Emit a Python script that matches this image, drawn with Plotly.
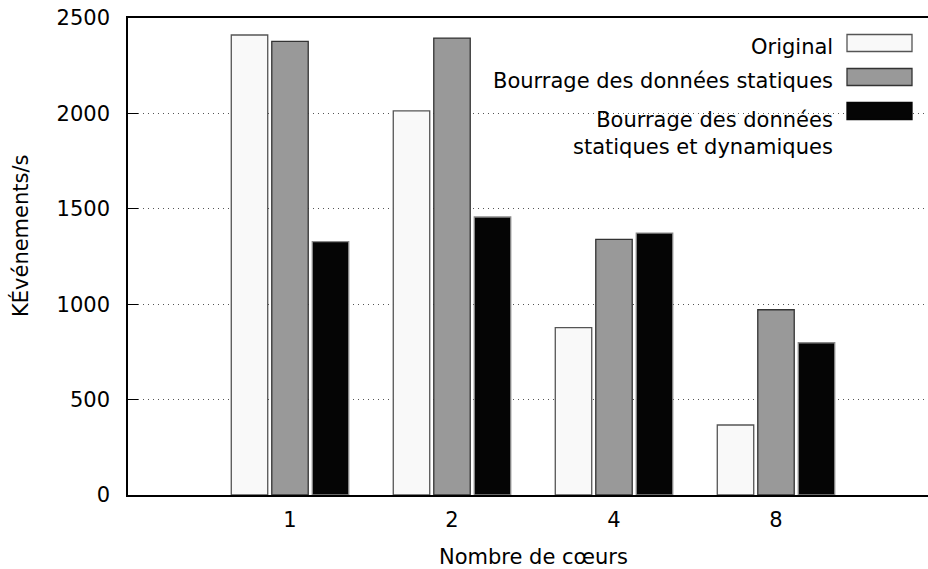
import plotly.graph_objects as go

# Data
positions = [1, 2, 3, 4]
core_labels = ["1", "2", "4", "8"]
original = [2411, 2013, 877, 367]
statique = [2378, 2395, 1340, 971]
dynamique = [1328, 1457, 1373, 798]
series_names = ["Original", "Bourrage des données statiques",
                "Bourrage des données<br>statiques et dynamiques"]
y_ticks = [0, 500, 1000, 1500, 2000, 2500]

W, H = 928, 569
L, R, T, B = 128, 928, 18, 495
FONT = "DejaVu Sans"
FS = 21


def xp(px):
    return (px - L) / (R - L)


def yp(py):
    return (B - py) / (B - T)


fills = ["#f9f9f9", "#999999", "#050505"]
edges = ["#555555", "#333333", "#8a8a8a"]
values = [original, statique, dynamique]

fig = go.Figure()
for name, vals, fc, ec in zip(series_names, values, fills, edges):
    fig.add_trace(go.Bar(
        x=positions, y=vals, name=name,
        marker=dict(color=fc, line=dict(color=ec, width=1.3)),
        showlegend=False,
    ))

# Manual gnuplot-style legend (text left of swatch)
rows_y = [43, 77, 111]
text_y = [47, 81, 133]
shapes = []
annotations = []
for i, (name, fc, ec) in enumerate(zip(series_names, fills, edges)):
    shapes.append(dict(type="rect", xref="paper", yref="paper",
                       x0=xp(847), x1=xp(912), y0=yp(rows_y[i] - 8.5), y1=yp(rows_y[i] + 8.5),
                       fillcolor=fc, line=dict(color=ec if i != 2 else "#050505", width=1.3),
                       layer="above"))
    annotations.append(dict(xref="paper", yref="paper", x=xp(835), y=yp(text_y[i]),
                            xanchor="right", yanchor="middle", align="right",
                            text=name, showarrow=False,
                            font=dict(family=FONT, size=FS, color="black")))

# Axis titles
annotations.append(dict(xref="paper", yref="paper", x=xp(533), y=yp(557),
                        xanchor="center", yanchor="middle", text="Nombre de cœurs",
                        showarrow=False, font=dict(family=FONT, size=FS, color="black")))
annotations.append(dict(xref="paper", yref="paper", x=xp(20), y=yp(236),
                        xanchor="center", yanchor="middle", text="KÉvénements/s", textangle=-90,
                        showarrow=False, font=dict(family=FONT, size=FS, color="black")))

fig.update_layout(
    width=W, height=H,
    margin=dict(l=L, r=W - R, t=T, b=H - B, pad=0),
    paper_bgcolor="white", plot_bgcolor="white",
    barmode="group", bargap=0.25, bargroupgap=0.1,
    font=dict(family=FONT, size=FS, color="black"),
    shapes=shapes, annotations=annotations,
    xaxis=dict(range=[0, (R - L) / 162.0], tickvals=positions, ticktext=core_labels,
               showgrid=False, zeroline=False, showline=True, linecolor="black",
               linewidth=1.5, mirror=True, ticks="", ticklabelstandoff=5,
               tickfont=dict(family=FONT, size=FS, color="black")),
    yaxis=dict(range=[0, 2500], tickvals=y_ticks, showgrid=True, gridcolor="#555555",
               griddash="1px,4px", gridwidth=1, zeroline=False, showline=True,
               linecolor="black", linewidth=1.5, ticks="inside", ticklen=10,
               tickcolor="black", tickwidth=1, ticklabelstandoff=12,
               tickfont=dict(family=FONT, size=FS, color="black")),
)

fig.write_html(
    "out.html",
    config={"displayModeBar": False},
    post_script="document.body.style.margin='0';document.body.style.padding='0';"
                "document.body.style.overflow='hidden';"
                "document.documentElement.style.overflow='hidden';",
)
